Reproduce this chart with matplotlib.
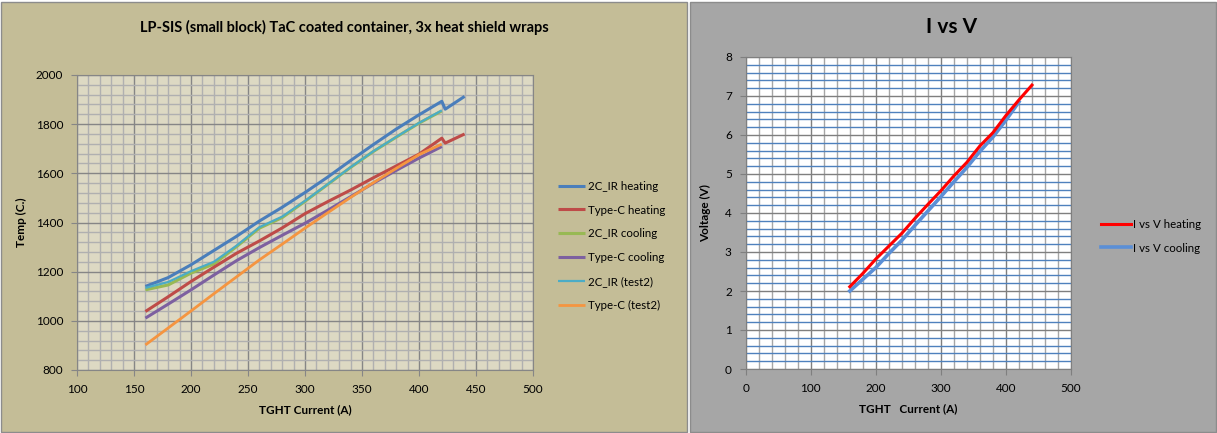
import matplotlib
matplotlib.use("Agg")
import matplotlib.pyplot as plt
from matplotlib.patches import Rectangle
from matplotlib.ticker import MultipleLocator

plt.rcParams['font.family'] = ['Lato', 'DejaVu Sans']

# ---------------- data: left chart ----------------
x_heat = [160, 180, 200, 220, 240, 260, 280, 300, 320, 340, 360, 380, 400, 420, 423, 440]
ir_heating = [1140, 1176, 1228, 1286, 1344, 1406, 1462, 1522, 1585, 1652, 1717, 1780, 1838, 1893, 1861, 1913]
tc_heating = [1038, 1098, 1160, 1218, 1275, 1325, 1378, 1436, 1485, 1532, 1582, 1630, 1678, 1743, 1723, 1760]

x_cool = [160, 180, 200, 220, 240, 260, 280, 300, 320, 340, 360, 380, 400, 420]
ir_cooling = [1126, 1146, 1194, 1231, 1302, 1377, 1420, 1486, 1555, 1624, 1689, 1747, 1804, 1854]
tc_cooling = [1011, 1068, 1126, 1186, 1245, 1298, 1348, 1397, 1450, 1505, 1560, 1612, 1662, 1709]
ir_test2 = [1134, 1158, 1202, 1240, 1306, 1381, 1424, 1488, 1556, 1625, 1690, 1748, 1805, 1856]
tc_test2 = [902, 971, 1040, 1110, 1179, 1248, 1312, 1377, 1440, 1502, 1562, 1620, 1676, 1719]

left_labels = ["2C_IR heating", "Type-C heating", "2C_IR cooling",
               "Type-C cooling", "2C_IR (test2)", "Type-C (test2)"]

# ---------------- data: right chart ----------------
v_heat_x = [160, 180, 200, 220, 240, 260, 280, 300, 320, 340, 360, 380, 400, 420, 440]
v_heating = [2.11, 2.45, 2.82, 3.15, 3.48, 3.86, 4.22, 4.57, 4.95, 5.30, 5.72, 6.06, 6.50, 6.90, 7.28]
v_cool_x = [160, 180, 200, 220, 240, 260, 280, 300, 320, 340, 360, 380, 400, 420]
v_cooling = [2.00, 2.30, 2.60, 2.96, 3.30, 3.68, 4.05, 4.42, 4.80, 5.17, 5.58, 5.95, 6.38, 6.85]
right_labels = ["I vs V heating", "I vs V cooling"]

W, H = 1217, 433
fig = plt.figure(figsize=(W / 100, H / 100), dpi=100, facecolor="white")

# panel backgrounds
fig.patches.append(Rectangle((1 / W, 1 / H), 686 / W, 430 / H, transform=fig.transFigure,
                             facecolor="#C4BD97", edgecolor="#8C8C8C", lw=1.0, zorder=-10))
fig.patches.append(Rectangle((690 / W, 1 / H), 526 / W, 430 / H, transform=fig.transFigure,
                             facecolor="#A6A6A6", edgecolor="#8C8C8C", lw=1.0, zorder=-10))

# ---------------- left chart ----------------
axL = fig.add_axes([77 / W, (H - 370) / H, (533 - 77) / W, (370 - 75) / H])
axL.set_facecolor("#DDD9C3")
axL.set_xlim(100, 500)
axL.set_ylim(800, 2000)
axL.xaxis.set_major_locator(MultipleLocator(50))
axL.xaxis.set_minor_locator(MultipleLocator(10))
axL.yaxis.set_major_locator(MultipleLocator(200))
axL.yaxis.set_minor_locator(MultipleLocator(40))
axL.grid(which="minor", color="#B0B0B0", lw=1.0)
axL.grid(which="major", color="#868686", lw=1.0)
axL.set_axisbelow(True)
for s in axL.spines.values():
    s.set_color("#868686")
axL.tick_params(which="major", direction="out", length=4, color="#868686",
                labelsize=8.5, pad=6)
axL.tick_params(which="minor", length=0)

colors = ["#4A7EBB", "#BE4B48", "#98B954", "#7D60A0", "#4BACC6", "#F59540"]
widths = [2.2, 2.2, 2.2, 2.2, 1.6, 2.0]
series = [(x_heat, ir_heating), (x_heat, tc_heating), (x_cool, ir_cooling),
          (x_cool, tc_cooling), (x_cool, ir_test2), (x_cool, tc_test2)]
order = [2, 0, 1, 3, 5, 4]
lines = {}
for i in order:
    xs, ys = series[i]
    ln, = axL.plot(xs, ys, color=colors[i], lw=widths[i], solid_capstyle="butt")
    lines[i] = ln

axL.set_xlabel("TGHT Current (A)", fontsize=8.5, fontweight="bold", labelpad=7)
axL.set_ylabel("Temp (C.)", fontsize=8.5, fontweight="bold", labelpad=6)
fig.text(344 / W, 1 - 27 / H, "LP-SIS (small block) TaC coated container, 3x heat shield wraps",
         ha="center", va="center", fontsize=10.5, fontweight="bold")

legL = fig.legend([lines[i] for i in range(6)], left_labels, loc="upper left",
                  bbox_to_anchor=(553 / W, 1 - 176 / H), frameon=False, fontsize=8.3,
                  handlelength=2.4, handletextpad=0.2, labelspacing=1.12, borderaxespad=0)

# ---------------- right chart ----------------
axR = fig.add_axes([745.7 / W, (H - 369) / H, (1071 - 745.7) / W, (369 - 57) / H])
axR.set_facecolor("white")
axR.set_xlim(0, 500)
axR.set_ylim(0, 8)
axR.xaxis.set_major_locator(MultipleLocator(100))
axR.xaxis.set_minor_locator(MultipleLocator(20))
axR.yaxis.set_major_locator(MultipleLocator(1))
axR.yaxis.set_minor_locator(MultipleLocator(0.2))
axR.grid(which="minor", axis="x", color="#A6A6A6", lw=1.0)
axR.grid(which="minor", axis="y", color="#4F81BD", lw=1.0)
axR.grid(which="major", axis="x", color="#7F7F7F", lw=1.0)
axR.grid(which="major", axis="y", color="#7F7F7F", lw=1.0)
axR.set_axisbelow(True)
for s in axR.spines.values():
    s.set_color("#7F7F7F")
axR.tick_params(which="major", direction="out", length=4, color="#7F7F7F",
                labelsize=8.5, pad=6)
axR.tick_params(which="minor", length=0)

lc, = axR.plot(v_cool_x, v_cooling, color="#5B8FD6", lw=2.6)
lh, = axR.plot(v_heat_x, v_heating, color="#FF0000", lw=2.2)
axR.set_xlabel("TGHT   Current (A)", fontsize=8.5, fontweight="bold", labelpad=7)
axR.set_ylabel("Voltage (V)", fontsize=8.5, fontweight="bold", labelpad=10)
fig.text(952 / W, 1 - 27 / H, "I vs V", ha="center", va="center", fontsize=15, fontweight="bold")

legR = fig.legend([lh, lc], right_labels, loc="upper left",
                  bbox_to_anchor=(1096 / W, 1 - 214 / H), frameon=False, fontsize=8.3,
                  handlelength=2.6, handletextpad=0.2, labelspacing=1.12, borderaxespad=0)

fig.savefig("out.png", dpi=100, facecolor=fig.get_facecolor())
